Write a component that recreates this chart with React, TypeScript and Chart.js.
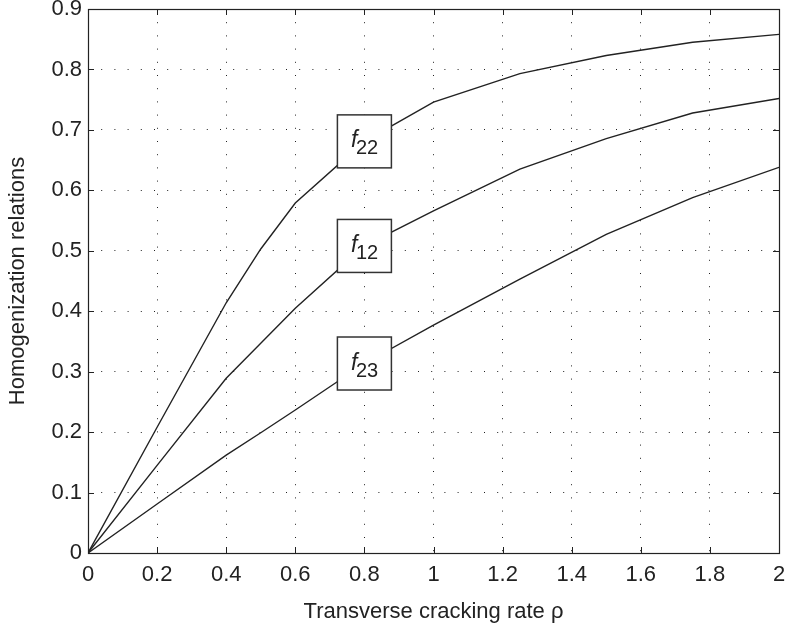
import React, { useEffect, useRef } from "react";
import { Chart, registerables } from "chart.js";

Chart.register(...registerables);

// Data
const rho = [0, 0.2, 0.4, 0.5, 0.6, 0.8, 1, 1.25, 1.5, 1.75, 2];
const f22 = [0, 0.208, 0.414, 0.503, 0.579, 0.681, 0.746, 0.793, 0.823, 0.845, 0.858];
const f12 = [0, 0.145, 0.289, 0.347, 0.405, 0.508, 0.566, 0.635, 0.6855, 0.728, 0.752];
const f23 = [0, 0.081, 0.162, 0.199, 0.2366, 0.3135, 0.377, 0.453, 0.527, 0.588, 0.638];
const seriesNames = ["22", "12", "23"];
const labelRho = 0.8;
const xTicks = [0, 0.2, 0.4, 0.6, 0.8, 1, 1.2, 1.4, 1.6, 1.8, 2];
const yTicks = [0, 0.1, 0.2, 0.3, 0.4, 0.5, 0.6, 0.7, 0.8, 0.9];
const xTitle = "Transverse cracking rate \u03c1";
const yTitle = "Homogenization relations";

const FONT = "'Liberation Sans', Arial, Helvetica, sans-serif";
const INK = "#222";

const fmt = (v: number) => String(Number(v.toFixed(2)));

const framePlugin = {
  id: "matlabFrame",
  afterDatasetsDraw(chart: any) {
    const { ctx, chartArea } = chart;
    const { left, right, top, bottom } = chartArea;
    const xs = chart.scales.x;
    const ys = chart.scales.y;
    ctx.save();
    // labels on curves
    const all = [f22, f12, f23];
    const idx = rho.indexOf(labelRho);
    all.forEach((arr, i) => {
      const cx = xs.getPixelForValue(labelRho);
      const cy = ys.getPixelForValue(arr[idx]);
      const w = 54;
      const h = 53;
      ctx.fillStyle = "#fff";
      ctx.fillRect(cx - w / 2, cy - h / 2, w, h);
      ctx.strokeStyle = "#333";
      ctx.lineWidth = 1.5;
      ctx.strokeRect(cx - w / 2, cy - h / 2, w, h);
      ctx.fillStyle = INK;
      ctx.textBaseline = "alphabetic";
      ctx.textAlign = "left";
      ctx.font = `italic 23px ${FONT}`;
      ctx.fillText("f", cx - 13.5, cy + 6);
      ctx.font = `20px ${FONT}`;
      ctx.fillText(seriesNames[i], cx - 8.5, cy + 13);
    });
    // frame
    ctx.strokeStyle = INK;
    ctx.lineWidth = 1.2;
    ctx.strokeRect(Math.round(left) + 0.5, Math.round(top) + 0.5, Math.round(right - left), Math.round(bottom - top));
    // inner ticks
    const tl = 6;
    ctx.lineWidth = 1;
    ctx.beginPath();
    xTicks.forEach((v) => {
      const p = Math.round(xs.getPixelForValue(v)) + 0.5;
      ctx.moveTo(p, bottom);
      ctx.lineTo(p, bottom - tl);
      ctx.moveTo(p, top);
      ctx.lineTo(p, top + tl);
    });
    yTicks.forEach((v) => {
      const p = Math.round(ys.getPixelForValue(v)) + 0.5;
      ctx.moveTo(left, p);
      ctx.lineTo(left + tl, p);
      ctx.moveTo(right, p);
      ctx.lineTo(right - tl, p);
    });
    ctx.stroke();
    ctx.restore();
  },
};

export default function App() {
  const ref = useRef<HTMLCanvasElement>(null);
  useEffect(() => {
    document.body.style.margin = "0";
    const canvas = ref.current!;
    const mk = (data: number[]) => ({
      data: rho.map((x, i) => ({ x, y: data[i] })),
      borderColor: INK,
      borderWidth: 1.4,
      pointRadius: 0,
      tension: 0,
      fill: false,
    });
    const chart = new Chart(canvas, {
      type: "line",
      data: { datasets: [mk(f22), mk(f12), mk(f23)] },
      options: {
        animation: false,
        responsive: false,
        maintainAspectRatio: false,
        layout: { padding: { left: 0, top: 9, right: 9, bottom: 0 } },
        plugins: { legend: { display: false }, tooltip: { enabled: false } },
        scales: {
          x: {
            type: "linear",
            min: 0,
            max: 2,
            afterBuildTicks: (s: any) => {
              s.ticks = xTicks.map((v) => ({ value: v }));
            },
            afterFit: (s: any) => {
              s.height = 80;
              s.paddingLeft = 0;
              s.paddingRight = 0;
            },
            ticks: {
              color: INK,
              font: { family: FONT, size: 22 },
              padding: 9,
              maxRotation: 0,
              autoSkip: false,
              callback: (v: any) => fmt(Number(v)),
            },
            grid: { color: "#222", lineWidth: 1, drawTicks: false },
            border: { display: false, dash: [1, 12.2] },
            title: {
              display: true,
              text: xTitle,
              color: INK,
              font: { family: FONT, size: 22 },
              padding: { top: 0, bottom: 8 },
            },
          },
          y: {
            type: "linear",
            min: 0,
            max: 0.9,
            afterBuildTicks: (s: any) => {
              s.ticks = yTicks.map((v) => ({ value: v }));
            },
            afterFit: (s: any) => {
              s.width = 88;
              s.paddingTop = 0;
              s.paddingBottom = 0;
            },
            ticks: {
              color: INK,
              font: { family: FONT, size: 22 },
              padding: 6,
              autoSkip: false,
              callback: (v: any) => fmt(Number(v)),
            },
            grid: { color: "#222", lineWidth: 1, drawTicks: false },
            border: { display: false, dash: [1, 12.2] },
            title: {
              display: true,
              text: yTitle,
              color: INK,
              font: { family: FONT, size: 22 },
              padding: { top: 5, bottom: 0 },
            },
          },
        },
      },
      plugins: [framePlugin],
    });
    return () => chart.destroy();
  }, []);
  return (
    <div style={{ width: 788, height: 633 }}>
      <canvas ref={ref} width={788} height={633} style={{ display: "block", width: 788, height: 633 }} />
    </div>
  );
}
